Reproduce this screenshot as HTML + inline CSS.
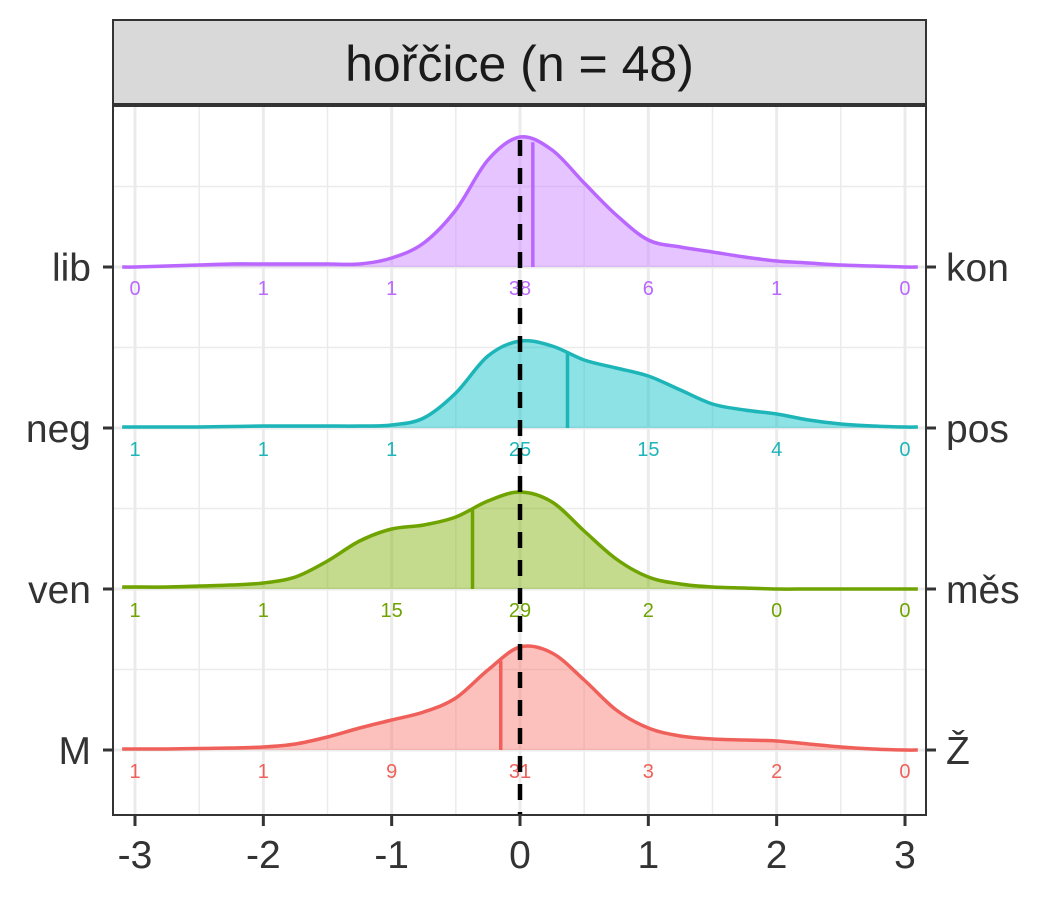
<!DOCTYPE html>
<html><head><meta charset="utf-8"><style>body{margin:0;background:#fff}</style></head>
<body>
<svg id="chart" width="1050" height="900" xmlns="http://www.w3.org/2000/svg" font-family="Liberation Sans, sans-serif"></svg>
<script>
const categories=["M","ven","neg","lib"];
const rightLabels=["Ž","měs","pos","kon"];
const colors=["#F8766D","#7CAE00","#00BFC4","#C77CFF"];
const strokeColors=["#F0605A","#6FA300","#1DB5B8","#B967FF"];
const xGrid=[-3,-2.75,-2.5,-2.25,-2,-1.75,-1.5,-1.25,-1,-0.75,-0.5,-0.25,0,0.25,0.5,0.75,1,1.25,1.5,1.75,2,2.25,2.5,2.75,3];
const densM  =[1,1,1.5,2,3,6,13,22,30,38,52,80,103,97,70,40,22,14,11,10,9,6,3,1,0];
const densVen=[2,2,3,4,6,12,28,48,60,64,72,88,97,87,58,30,12,5,2,1,0,0,0,0,0];
const densNeg=[1,1,1,1.5,2,2,2,2,3,10,35,72,87,82,68,60,52,38,24,18,14,8,4,2,1];
const densLib=[0,1,2,3,3,3,3,3,9,24,57,107,130,117,84,52,27,20,15,10,6,4,2,1,0];
const dens=[densM,densVen,densNeg,densLib];
const medians=[-0.15,-0.37,0.37,0.1];
const counts=[[1,1,9,31,3,2,0],[1,1,15,29,2,0,0],[1,1,1,25,15,4,0],[0,1,1,38,6,1,0]];
const countX=[-3,-2,-1,0,1,2,3];
const xTicks=[-3,-2,-1,0,1,2,3];

const svg=document.getElementById('chart');const NS="http://www.w3.org/2000/svg";
const X=v=>520+v*128.33;
const Y0=i=>750-i*161;
function el(t,a,p){const e=document.createElementNS(NS,t);for(const k in a)e.setAttribute(k,a[k]);(p||svg).appendChild(e);return e;}
const L=113,R=926,T=106,B=815;
for(let v=-3;v<=3;v+=0.5){const g=el('line',{x1:X(v),x2:X(v),y1:T,y2:B,stroke:'#ebebeb','stroke-width':Number.isInteger(v)?3:1.5});
}
for(let i=0;i<4;i++){const y=Y0(i);
const g=el('line',{x1:L,x2:R,y1:y,y2:y,stroke:'#ebebeb','stroke-width':3});
const m=el('line',{x1:L,x2:R,y1:y-80.5,y2:y-80.5,stroke:'#ebebeb','stroke-width':1.5});}
function smooth(pts){let d=`M${pts[0][0]},${pts[0][1]}`;for(let i=0;i<pts.length-1;i++){const p0=pts[Math.max(0,i-1)],p1=pts[i],p2=pts[i+1],p3=pts[Math.min(pts.length-1,i+2)];
d+=` C${p1[0]+(p2[0]-p0[0])/6},${p1[1]+(p2[1]-p0[1])/6} ${p2[0]-(p3[0]-p1[0])/6},${p2[1]-(p3[1]-p1[1])/6} ${p2[0]},${p2[1]}`;}return d;}
function interp(arr,v){for(let i=0;i<xGrid.length-1;i++){if(v>=xGrid[i]&&v<=xGrid[i+1]){const t=(v-xGrid[i])/(xGrid[i+1]-xGrid[i]);return arr[i]+t*(arr[i+1]-arr[i]);}}return 0;}
for(let i=3;i>=0;i--){const y0=Y0(i);
const pts=[[X(-3.1),y0-dens[i][0]]].concat(xGrid.map((x,j)=>[X(x),y0-dens[i][j]])).concat([[X(3.1),y0-dens[i][xGrid.length-1]]]);
const line=smooth(pts);
const a=el('path',{d:line+` L${X(3.1)},${y0} L${X(-3.1)},${y0} Z`,fill:colors[i],'fill-opacity':0.45,stroke:'none'});

const l=el('path',{d:line,fill:'none',stroke:strokeColors[i],'stroke-width':3.5});

const m=el('line',{x1:X(medians[i]),x2:X(medians[i]),y1:y0,y2:y0-interp(dens[i],medians[i]),stroke:strokeColors[i],'stroke-width':3.5});

counts[i].forEach((c,k)=>{const t=el('text',{x:X(countX[k]),y:y0+28,'text-anchor':'middle','font-size':20,fill:strokeColors[i]});t.textContent=c;
});}
const z=el('line',{x1:X(0),x2:X(0),y1:140,y2:B,stroke:'#000','stroke-width':4.5,'stroke-dasharray':'16,12'});

const fr=el('rect',{x:L,y:T,width:R-L,height:B-T,fill:'none',stroke:'#333','stroke-width':2});

const st=el('rect',{x:L,y:20,width:R-L,height:84,fill:'#d9d9d9',stroke:'#333','stroke-width':2});

const stt=el('text',{x:(L+R)/2,y:81,'text-anchor':'middle','font-size':50,fill:'#1a1a1a'});stt.textContent='hořčice (n = 48)';

for(let i=0;i<4;i++){const y=Y0(i);
el('line',{x1:L-10,x2:L,y1:y,y2:y,stroke:'#333','stroke-width':3});el('line',{x1:R,x2:R+10,y1:y,y2:y,stroke:'#333','stroke-width':3});
const a=el('text',{x:L-22,y:y+14,'text-anchor':'end','font-size':39,fill:'#333'});a.textContent=categories[i];

const b=el('text',{x:R+20,y:y+14,'font-size':39,fill:'#333'});b.textContent=rightLabels[i];
}
xTicks.forEach(v=>{el('line',{x1:X(v),x2:X(v),y1:B,y2:B+11,stroke:'#333','stroke-width':3});
const t=el('text',{x:X(v),y:868,'text-anchor':'middle','font-size':39,fill:'#333'});t.textContent=v;
});
</script>
</body></html>
